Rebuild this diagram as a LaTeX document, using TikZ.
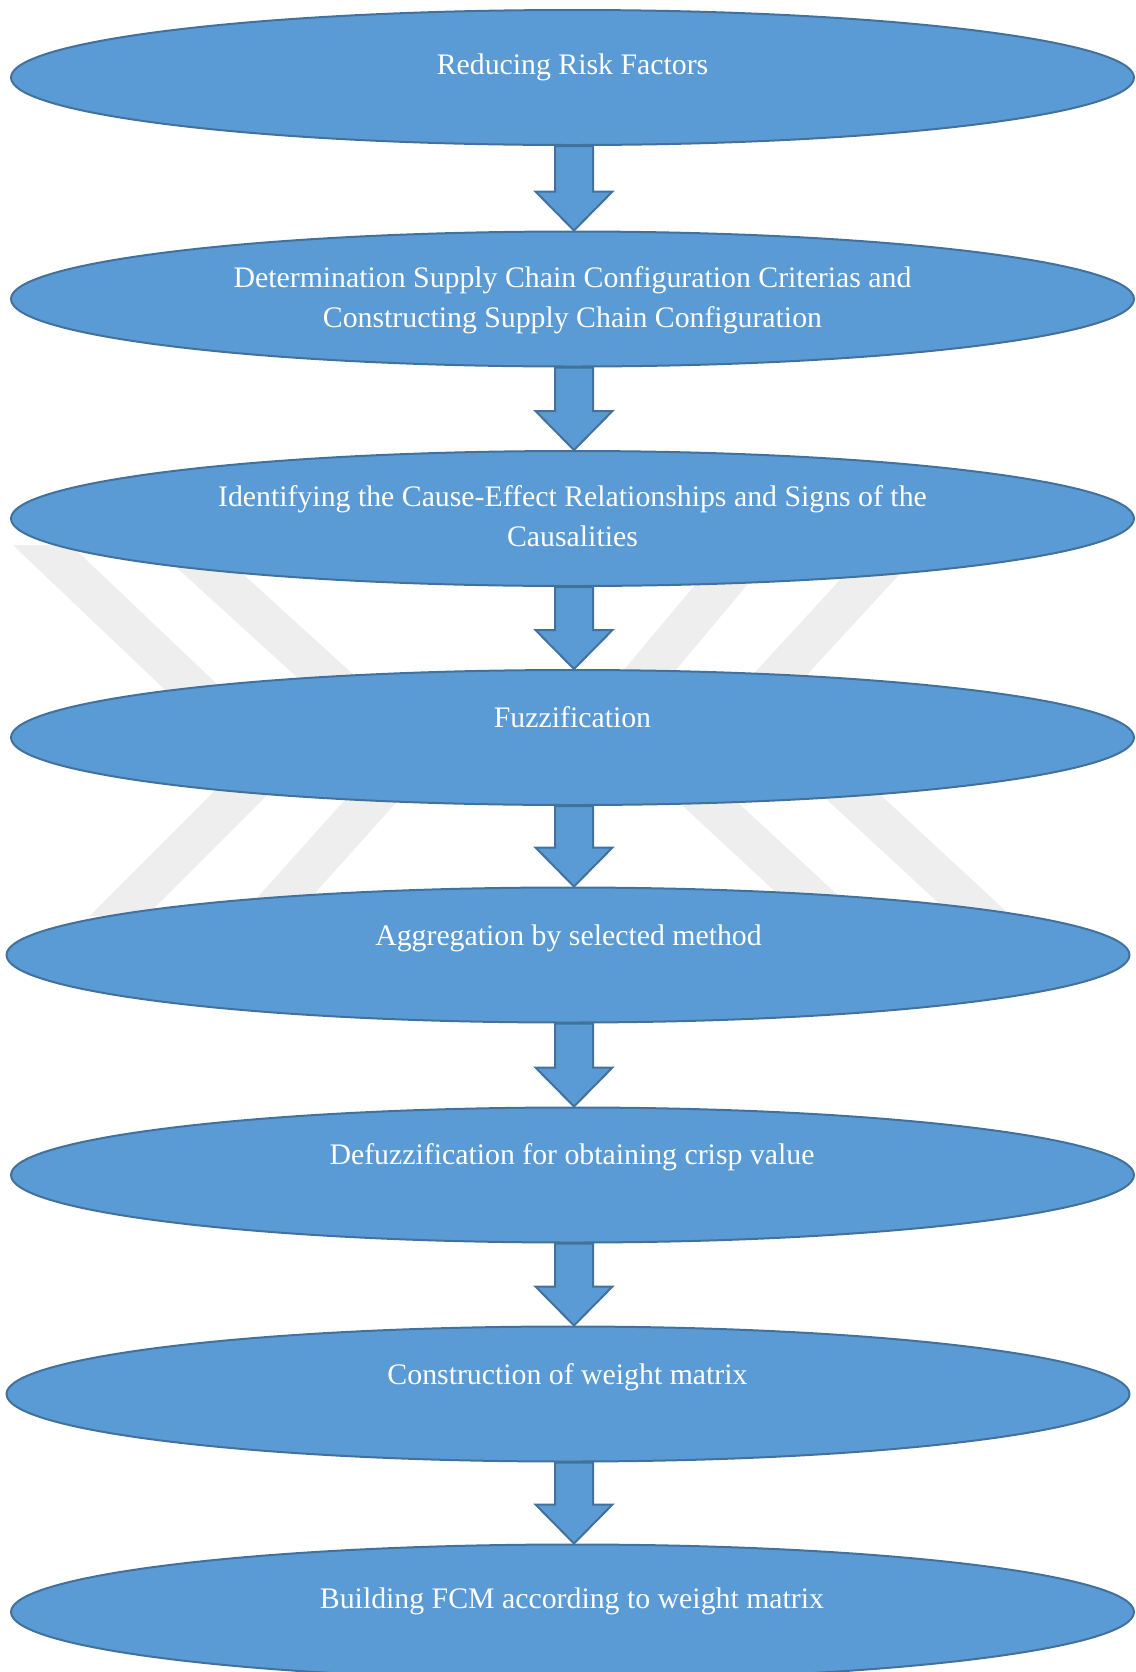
\documentclass[tikz,border=0pt]{standalone}
\usepackage{fontspec}
\setmainfont{Liberation Serif}
\usetikzlibrary{shapes.geometric,calc}
\definecolor{boxblue}{RGB}{91,155,213}
\definecolor{boxline}{RGB}{65,113,156}
\definecolor{markgray}{RGB}{238,238,238}
\tikzset{
  stage/.style={ellipse, fill=boxblue, draw=boxline, line width=1pt,
    minimum width=561.5pt, minimum height=67.5pt, inner sep=0pt, outer sep=0pt},
  caption/.style={text=white, font=\fontsize{14.9pt}{20pt}\selectfont,
    align=center, anchor=base, inner sep=0pt},
  blockarrow/.style={fill=boxblue, draw=boxline, line width=1pt, line join=miter},
  band/.style={draw=markgray, line width=20pt, line join=miter, miter limit=10}
}
% block arrow from the bottom of one stage to the top of the next
\newcommand\flowarrow[2]{%
  \draw[blockarrow]
    ($(ax |- #1.south)+(-19,1)$) -- ($(ax |- #1.south)+(19,1)$)
    -- ($(ax |- #2.north)+(19,-40)$) -- ($(ax |- #2.north)+(38.5,-40)$)
    -- ($(ax |- #2.north)+(0,-1)$) -- ($(ax |- #2.north)+(-38.5,-40)$)
    -- ($(ax |- #2.north)+(-19,-40)$) -- cycle;}
\begin{document}
\begin{tikzpicture}[x=0.5pt,y=-0.5pt]
\useasboundingbox (0,0) rectangle (1136,1672);
\coordinate (ax) at (574,0);

% light grey chevron bands in the background
\begin{scope}
  \clip (0,545) rectangle (1136,915);
  \draw[band] (26,530) -- (271,763) -- (104,930);
  \draw[band] (165,530) -- (412,755) -- (255,930);
  \draw[band] (767,530) -- (613,714) -- (846,930);
  \draw[band] (913,530) -- (753,704) -- (997,930);
\end{scope}

% process stages
\node[stage] (e1) at (572.5,77.5) {};
\node[stage] (e2) at (572.5,299) {};
\node[stage] (e3) at (572.5,518.5) {};
\node[stage] (e4) at (572.5,737.5) {};
\node[stage] (e5) at (568,955) {};
\node[stage] (e6) at (572.5,1175) {};
\node[stage] (e7) at (568,1394) {};
\node[stage] (e8) at (572.5,1612) {};

% captions (a two-line caption is placed by the baseline of its last line)
\node[caption] (t1) at (572.5,74) {Reducing Risk Factors};
\node[caption] (t2) at (572.5,327) {Determination Supply Chain Configuration Criterias and\\Constructing Supply Chain Configuration};
\node[caption] (t3) at (572.5,546) {Identifying the Cause-Effect Relationships and Signs of the\\Causalities};
\node[caption] (t4) at (572.5,727) {Fuzzification};
\node[caption] (t5) at (568.5,945) {Aggregation by selected method};
\node[caption] (t6) at (572,1164) {Defuzzification for obtaining crisp value};
\node[caption] (t7) at (567.5,1384) {Construction of weight matrix};
\node[caption] (t8) at (572,1608) {Building FCM according to weight matrix};

% arrows between consecutive stages
\flowarrow{e1}{e2}
\flowarrow{e2}{e3}
\flowarrow{e3}{e4}
\flowarrow{e4}{e5}
\flowarrow{e5}{e6}
\flowarrow{e6}{e7}
\flowarrow{e7}{e8}
\end{tikzpicture}
\end{document}
